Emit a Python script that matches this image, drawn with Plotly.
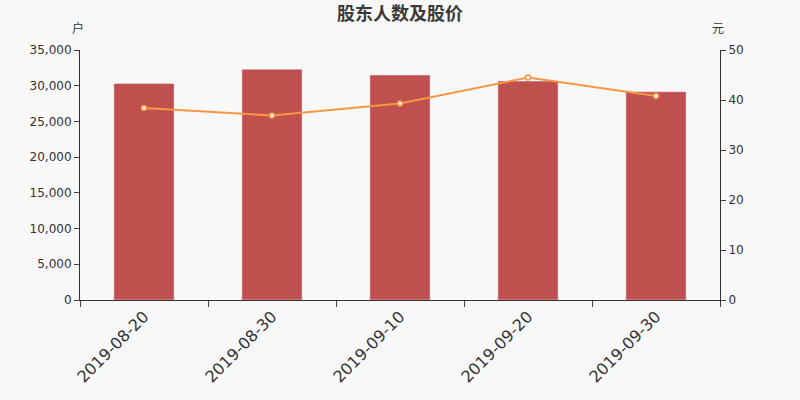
import plotly.graph_objects as go

dates = ["2019-08-20", "2019-08-30", "2019-09-10", "2019-09-20", "2019-09-30"]
holders = [30300, 32300, 31500, 30650, 29150]
price = [38.4, 36.9, 39.3, 44.5, 40.8]

fig = go.Figure()
fig.add_trace(go.Bar(x=dates, y=holders, marker_color="#c0504d", width=0.47, name="股东人数"))
fig.add_trace(go.Scatter(
    x=dates, y=price, yaxis="y2", mode="lines+markers", name="股价",
    line=dict(color="#f79646", width=2),
    marker=dict(size=5, color="white", line=dict(color="#f79646", width=1.5)),
))

axis_font = dict(family="DejaVu Sans", size=12, color="#333")
fig.update_layout(
    width=800, height=400,
    paper_bgcolor="#f8f8f8", plot_bgcolor="#f8f8f8",
    margin=dict(l=80, r=80, t=50, b=100, autoexpand=False),
    showlegend=False,
    title=dict(text="<b>股东人数及股价</b>", x=0.5, y=0.966, xanchor="center", yanchor="middle",
               font=dict(family="Noto Sans CJK SC", size=18, color="#3a3a3a")),
    xaxis=dict(type="category", tickangle=-45, tickson="boundaries", ticks="outside", ticklen=6,
               showline=True, linecolor="#333", tickfont=dict(family="DejaVu Sans", size=16, color="#333"),
               showgrid=False, automargin=False),
    yaxis=dict(range=[0, 35000], dtick=5000, tickformat=",", ticks="outside", ticklen=5,
               showline=True, linecolor="#333", showgrid=False, zeroline=False, tickfont=axis_font,
               automargin=False),
    yaxis2=dict(range=[0, 50], dtick=10, overlaying="y", side="right", ticks="outside", ticklen=5,
                showline=True, linecolor="#333", showgrid=False, zeroline=False, tickfont=axis_font,
                automargin=False),
    annotations=[
        dict(text="户", xref="paper", yref="paper", x=-0.003, y=1.088, showarrow=False,
             xanchor="center", yanchor="middle", font=dict(family="Noto Sans CJK SC", size=12, color="#333")),
        dict(text="元", xref="paper", yref="paper", x=0.997, y=1.088, showarrow=False,
             xanchor="center", yanchor="middle", font=dict(family="Noto Sans CJK SC", size=12, color="#333")),
    ],
)

# drop the default page margin so the chart sits at the window's top-left corner
fig.write_html(
    "out.html",
    config={"displayModeBar": False},
    post_script="document.body.style.margin='0';document.body.style.background='#f8f8f8';",
)
